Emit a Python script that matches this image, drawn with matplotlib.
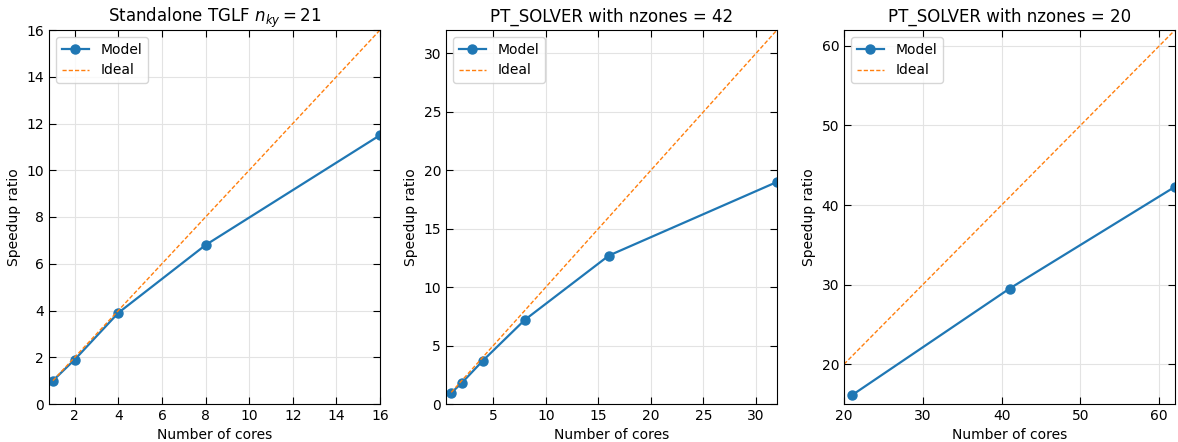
import matplotlib
matplotlib.use("Agg")
import matplotlib.pyplot as plt
from matplotlib.ticker import MultipleLocator

# Standalone TGLF
tglf_cores = [1, 2, 4, 8, 16]
tglf_speedup = [1.0, 1.9, 3.9, 6.8, 11.5]
tglf_ideal = [1, 16]

# PT_SOLVER nzones = 42
pt42_cores = [1, 2, 4, 8, 16, 32]
pt42_speedup = [0.95, 1.8, 3.7, 7.2, 12.7, 19.0]
pt42_ideal = [1, 32]

# PT_SOLVER nzones = 20
pt20_cores = [21, 41, 62]
pt20_speedup = [16.1, 29.5, 42.3]
pt20_ideal = [20, 62]

titles = [r"Standalone TGLF $n_{ky} = 21$",
          "PT_SOLVER with nzones = 42",
          "PT_SOLVER with nzones = 20"]

fig = plt.figure(figsize=(11.78, 4.42), dpi=100)
W, H = 1178.0, 442.0
boxes = [(49, 380), (446, 777), (844, 1175)]
top, bottom = 30, 404

data = [(tglf_cores, tglf_speedup, tglf_ideal, (0.82, 16), (0, 16), 2),
        (pt42_cores, pt42_speedup, pt42_ideal, (0.5, 32), (0, 32), 5),
        (pt20_cores, pt20_speedup, pt20_ideal, (20, 62), (15, 62), 10)]

for (l, r), (x, y, ideal, xl, yl, xstep), title in zip(boxes, data, titles):
    ax = fig.add_axes([l / W, 1 - bottom / H, (r - l) / W, (bottom - top) / H])
    ax.plot(x, y, "o-", color="#1f77b4", lw=1.6, ms=6.5, label="Model")
    ax.plot(ideal, ideal, "--", color="#ff7f0e", lw=1.0, dashes=(3, 1.5), label="Ideal")
    ax.set_xlim(*xl)
    ax.set_ylim(*yl)
    ax.xaxis.set_major_locator(MultipleLocator(xstep))
    ax.set_title(title, fontsize=12)
    ax.set_xlabel("Number of cores", fontsize=10)
    ax.set_ylabel("Speedup ratio", fontsize=10)
    ax.grid(True, color="#e3e3e3", lw=0.8)
    ax.tick_params(direction="in", top=True, right=True, labelsize=10, length=5)
    ax.legend(loc="upper left", fontsize=10)

fig.savefig("out.png", dpi=100)
